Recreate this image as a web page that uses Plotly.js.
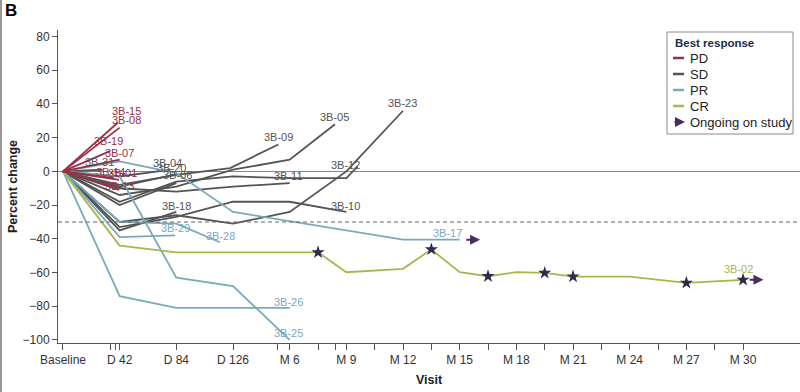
<!DOCTYPE html>
<html>
<head>
<meta charset="utf-8">
<script src="https://cdn.plot.ly/plotly-3.0.1.min.js"></script>
<style>html,body{margin:0;padding:0;background:#fff;}#chart{width:800px;height:392px;}</style>
</head>
<body>
<div id="chart"></div>
<script>
// Visit axis (positions are visit order index; half steps = 6-weekly visits)
const visitPos = [0,1,2,3,4,5,6,7,8,9,10,11,12];
const visitLabels = ['Baseline','D 42','D 84','D 126','M 6','M 9','M 12','M 15','M 18','M 21','M 24','M 27','M 30'];
const minorVisitPos = [0.83,0.92,3.79,4.5,4.8,5.5,6.5,7.5,8.5,9.5,10.5,11.5];
const yTicks = [80,60,40,20,0,-20,-40,-60,-80,-100];

// PD
const pdNames = ['3B-15','3B-08','3B-19','3B-07','3B-14','3B-01','3B-13'];
const pdX = [[0,0.97],[0,1],[0,0.83],[0,1],[0,0.9],[0,0.99],[0,0.99]];
const pdY = [[0,29],[0,26],[0,12],[0,7],[0,-4],[0,-5],[0,-11]];

// SD
const sdNames = ['3B-31','3B-04','3B-20','3B-06','3B-18','3B-09','3B-11','3B-05','3B-10','3B-12','3B-23'];
const sdX = [[0,0.7],[0,1,1.9],[0,1,1.95],[0,1,2],[0,1,2],[0,1,2,2.95,3.8],[0,1,2,3,4],[0,1,2,3,4,4.8],[0,1,2,3,4,5],[0,1,2,3,4,5,5.2],[0,1,2,3,4,5,6]];
const sdY = [[0,1],[0,-3,1],[0,-9,-2],[0,-20,-7],[0,-35,-24],[0,-8,-2,2,16],[0,-10,-12,-9,-7],[0,-14,-9,1,7,28],[0,-33,-27,-18,-18,-24],[0,-18,-6,-3,-4,-4,3],[0,-30,-26,-31,-24,0,36]];

// PR
const prNames = ['3B-29','3B-28','3B-26','3B-25','3B-17'];
const prX = [[0,1,1.98],[0,1,2,2.77],[0,1,2,4],[0,1,2,3,4],[0,1,2,3,6,7]];
const prY = [[0,-39,-38],[0,-30,-31,-42],[0,-74,-81,-81],[0,-3,-63,-68,-100],[0,6,-1,-24,-40.5,-40.5]];

// CR
const crNames = ['3B-02'];
const crX = [[0,1,2,4.5,5,6,6.5,7,7.5,8,8.5,9,10,11,12]];
const crY = [[0,-44,-48,-48,-59.8,-57.8,-46.3,-59.8,-62.2,-59.8,-60.2,-62.4,-62.4,-66.1,-64.3]];
const crStarVisits = [4.5,6.5,7.5,8.5,9,11,12];

// Ongoing on study
const ongoingNames = ['3B-17','3B-02'];

const legendLabels = ['PD','SD','PR','CR','Ongoing on study'];

// ---- styling ----
const COL = {PD:'#9a2f45', SD:'#545454', PR:'#7aa9bd', CR:'#a8b64e'};
const ARROW = '#4b2c5e';
const STAR = '#2b2e4f';
// label offsets in px [dx, dy up]
const labelShift = {
 '3B-15':[9,12],'3B-08':[7,8],'3B-19':[-2,10],'3B-07':[0,7],'3B-14':[-3,6],'3B-01':[3,7],'3B-13':[0,4],
 '3B-31':[-3,8],'3B-04':[-3,7],'3B-20':[-2,7],'3B-06':[1,8],'3B-18':[0,6],'3B-09':[0,7],'3B-11':[-1,7],
 '3B-05':[-1,7],'3B-10':[-1,6],'3B-12':[-12,1],'3B-23':[-1,8],
 '3B-29':[0,7],'3B-28':[1,6],'3B-26':[-1,6],'3B-25':[-1,7],'3B-17':[-12,7],'3B-02':[-5,11]
};

const traces = [];
const annotations = [];
const allX = {}, allY = {};
function addGroup(names, xs, ys, key){
  names.forEach((n,i)=>{
    allX[n]=xs[i]; allY[n]=ys[i];
    traces.push({type:'scatter', mode:'lines', x:xs[i], y:ys[i], name:n, showlegend:false,
      line:{color:COL[key], width:1.8}, hoverinfo:'skip'});
    const last = xs[i].length-1;
    const s = labelShift[n] || [0,7];
    annotations.push({x:xs[i][last], y:ys[i][last], xref:'x', yref:'y', text:n, showarrow:false,
      xshift:s[0], yshift:s[1], font:{size:11, color:COL[key]}});
  });
}
addGroup(sdNames, sdX, sdY, 'SD');
addGroup(prNames, prX, prY, 'PR');
addGroup(crNames, crX, crY, 'CR');
addGroup(pdNames, pdX, pdY, 'PD');

// stars on CR line
const starY = crStarVisits.map(v => crY[0][crX[0].indexOf(v)]);
traces.push({type:'scatter', mode:'markers', x:crStarVisits, y:starY, showlegend:false,
  marker:{symbol:'star', size:10, color:STAR}, hoverinfo:'skip'});

// ongoing arrows
ongoingNames.forEach(n=>{
  const xs = allX[n], ys = allY[n], l = xs.length-1;
  annotations.push({x:xs[l]+0.36, y:ys[l], xref:'x', yref:'y', axref:'x', ayref:'y',
    ax:xs[l]+0.09, ay:ys[l], showarrow:true, arrowhead:2, arrowsize:1, arrowwidth:2,
    arrowcolor:ARROW, text:''});
});

// pixel helpers for layout elements
const L=58, R=0, T=30, B=49, W=800, H=392;
const pw = W-L-R, ph = H-T-B;
const px2x = p => (p-L)/pw;
const py2y = p => (H-B-p)/ph;

const shapes = [
  {type:'line', xref:'paper', yref:'y', x0:0, x1:1, y0:-30, y1:-30, line:{color:'#666', width:1.2, dash:'4px,3px'}},
  {type:'line', xref:'paper', yref:'paper', x0:px2x(1), x1:px2x(1), y0:py2y(392), y1:py2y(0), line:{color:'#999', width:2}},
  {type:'rect', xref:'paper', yref:'paper', x0:px2x(667), x1:px2x(793), y0:py2y(32), y1:py2y(134),
    line:{color:'#8a8a8a', width:1}, fillcolor:'#fff', layer:'above'}
];
annotations.push({xref:'paper', yref:'paper', x:px2x(673), y:py2y(43), xanchor:'left', yanchor:'middle',
  text:'<b>Best response</b>', showarrow:false, font:{size:11.5, color:'#1f2a4a'}});
const legendRows = [58,74,90,106,122];
['PD','SD','PR','CR'].forEach((k,i)=>{
  shapes.push({type:'line', xref:'paper', yref:'paper', x0:px2x(673), x1:px2x(684), y0:py2y(legendRows[i]), y1:py2y(legendRows[i]),
    line:{color:COL[k], width:2.5}, layer:'above'});
});
legendLabels.forEach((t,i)=>{
  annotations.push({xref:'paper', yref:'paper', x:px2x(688), y:py2y(legendRows[i]), xanchor:'left', yanchor:'middle',
    text:t, showarrow:false, font:{size:13, color:'#222'}});
});
annotations.push({xref:'paper', yref:'paper', x:px2x(685), y:py2y(legendRows[4]), ax:-12, ay:0,
  showarrow:true, arrowhead:2, arrowsize:1, arrowwidth:2, arrowcolor:ARROW, text:''});
// panel letter
annotations.push({xref:'paper', yref:'paper', x:px2x(3), y:py2y(11), xanchor:'left', yanchor:'middle',
  text:'<b>B</b>', showarrow:false, font:{size:17, color:'#000'}});

const layout = {
  width:W, height:H, margin:{l:L, r:R, t:T, b:B},
  paper_bgcolor:'#fff', plot_bgcolor:'#fff', showlegend:false,
  font:{family:'Liberation Sans, Arial, sans-serif', size:12, color:'#333'},
  xaxis:{range:[-0.088,13.005], tickmode:'array', tickvals:visitPos, ticktext:visitLabels,
    ticks:'outside', ticklen:6, tickcolor:'#555', showline:true, linecolor:'#555', linewidth:1,
    showgrid:false, zeroline:false, tickfont:{size:12, color:'#333'}, automargin:false,
    minor:{tickmode:'array', tickvals:minorVisitPos, ticks:'outside', ticklen:6, tickcolor:'#555', showgrid:false},
    title:{text:'<b>Visit</b>', font:{size:12.5, color:'#222'}, standoff:8}},
  yaxis:{range:[-101.8,83.9], tickmode:'array', tickvals:yTicks, ticks:'outside', ticklen:5, tickcolor:'#555',
    showline:true, linecolor:'#555', linewidth:1, showgrid:false, zeroline:true, zerolinecolor:'#888', zerolinewidth:1,
    tickfont:{size:12, color:'#333'}, automargin:false,
    title:{text:'<b>Percent change</b>', font:{size:12.5, color:'#222'}, standoff:2}},
  shapes:shapes, annotations:annotations
};
Plotly.newPlot('chart', traces, layout, {displayModeBar:false, staticPlot:true});
</script>
</body>
</html>
